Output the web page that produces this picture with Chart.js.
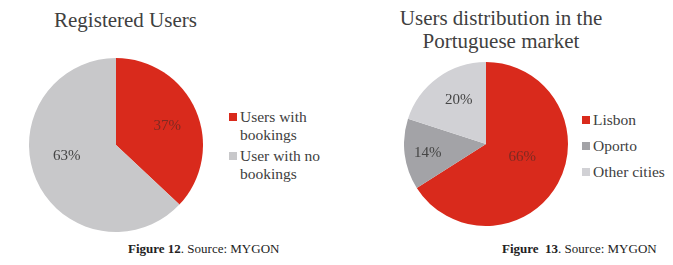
<!DOCTYPE html>
<html lang="en"><head><meta charset="UTF-8">
<title>Registered users / Users distribution</title>
<script src="https://cdn.jsdelivr.net/npm/chart.js@4.4.1/dist/chart.umd.min.js"></script>
<style>
*{box-sizing:border-box;margin:0;padding:0;}
body{width:673px;height:265px;background:#fff;font-family:'Liberation Serif','Times New Roman',serif;color:#404040;position:relative;overflow:hidden;}
.abs{position:absolute;white-space:nowrap;line-height:1;}
.title{font-size:21px;text-align:center;}
.leg{font-size:15.5px;}
.leg .row{position:absolute;left:0;}
.leg .sq{position:absolute;left:0;width:8px;height:8px;}
.leg .txt{position:absolute;left:11px;line-height:17.5px;}
.cap{font-size:13px;color:#222;}
.cap b{font-weight:700;}
canvas{position:absolute;}
</style></head>
<body>
<div class="abs title" style="left:0;width:251px;top:10px;">Registered Users</div>
<div class="abs title" style="left:376px;width:250px;top:7px;line-height:22.5px;">Users distribution in the<br>Portuguese market</div>

<canvas id="usersChart" width="174" height="174" style="left:29px;top:58px;"></canvas>
<canvas id="marketChart" width="164" height="164" style="left:404px;top:62px;"></canvas>

<div class="abs leg" id="usersLegend" style="left:229px;top:0;"></div>
<div class="abs leg" id="marketLegend" style="left:582px;top:0;"></div>

<div class="abs cap" style="left:128px;top:242px;"><b>Figure 12</b>. Source: MYGON</div>
<div class="abs cap" style="left:502px;top:242px;"><b>Figure&nbsp; 13</b>. Source: MYGON</div>

<script>
// registered users split
const userLabels = ['Users with bookings', 'User with no bookings'];
const userValues = [37, 63];
const userColors = ['#d92a1c', '#c8c8ca'];
const userLabelColors = ['#7e2a22', '#454545'];
const userLabelRadius = [0.63, 0.58];
const userLabelTurn = [3, 11];   // degrees, nudges label off the slice middle

// market split
const cityLabels = ['Lisbon', 'Oporto', 'Other cities'];
const cityValues = [66, 14, 20];
const cityColors = ['#d92a1c', '#a3a3a7', '#d1d1d5'];
const cityLabelColors = ['#7e2a22', '#454545', '#454545'];
const cityLabelRadius = [0.47, 0.72, 0.63];
const cityLabelTurn = [-9, -2, 4];

// draws "37%" etc. inside each slice
const pctLabels = {
  id: 'pctLabels',
  afterDatasetsDraw(chart, args, opts) {
    const ctx = chart.ctx;
    const ds = chart.data.datasets[0];
    const total = ds.data.reduce((a, b) => a + b, 0);
    chart.getDatasetMeta(0).data.forEach((arc, i) => {
      const p = arc.getProps(['x', 'y', 'startAngle', 'endAngle', 'outerRadius'], true);
      const mid = (p.startAngle + p.endAngle) / 2 + opts.turn[i] * Math.PI / 180;
      const r = p.outerRadius * opts.radius[i];
      ctx.save();
      ctx.font = "15px 'Liberation Serif', serif";
      ctx.fillStyle = opts.colors[i];
      ctx.textAlign = 'center';
      ctx.textBaseline = 'middle';
      ctx.fillText(Math.round(ds.data[i] / total * 100) + '%', p.x + Math.cos(mid) * r, p.y + Math.sin(mid) * r);
      ctx.restore();
    });
  }
};

function pieChart(id, labels, values, colors, labelColors, labelRadius, labelTurn) {
  return new Chart(document.getElementById(id), {
    type: 'pie',
    data: { labels, datasets: [{ data: values, backgroundColor: colors, borderWidth: 0, hoverOffset: 0, offset: 0 }] },
    options: {
      responsive: false, animation: false,
      layout: { padding: 0 },
      plugins: {
        legend: { display: false }, tooltip: { enabled: false },
        pctLabels: { colors: labelColors, radius: labelRadius, turn: labelTurn }
      }
    },
    plugins: [pctLabels]
  });
}

pieChart('usersChart', userLabels, userValues, userColors, userLabelColors, userLabelRadius, userLabelTurn);
pieChart('marketChart', cityLabels, cityValues, cityColors, cityLabelColors, cityLabelRadius, cityLabelTurn);

// html legends
function legend(elId, labels, colors, lines, tops) {
  const el = document.getElementById(elId);
  el.innerHTML = labels.map((l, i) => `<div class="row" style="top:${tops[i]}px;">
    <div class="sq" style="top:5px;background:${colors[i]};"></div>
    <div class="txt">${lines[i]}</div></div>`).join('');
}
legend('usersLegend', userLabels, userColors, ['Users with<br>bookings', 'User with no<br>bookings'], [108, 147]);
legend('marketLegend', cityLabels, cityColors, cityLabels, [111, 137, 163]);
</script>
</body></html>
